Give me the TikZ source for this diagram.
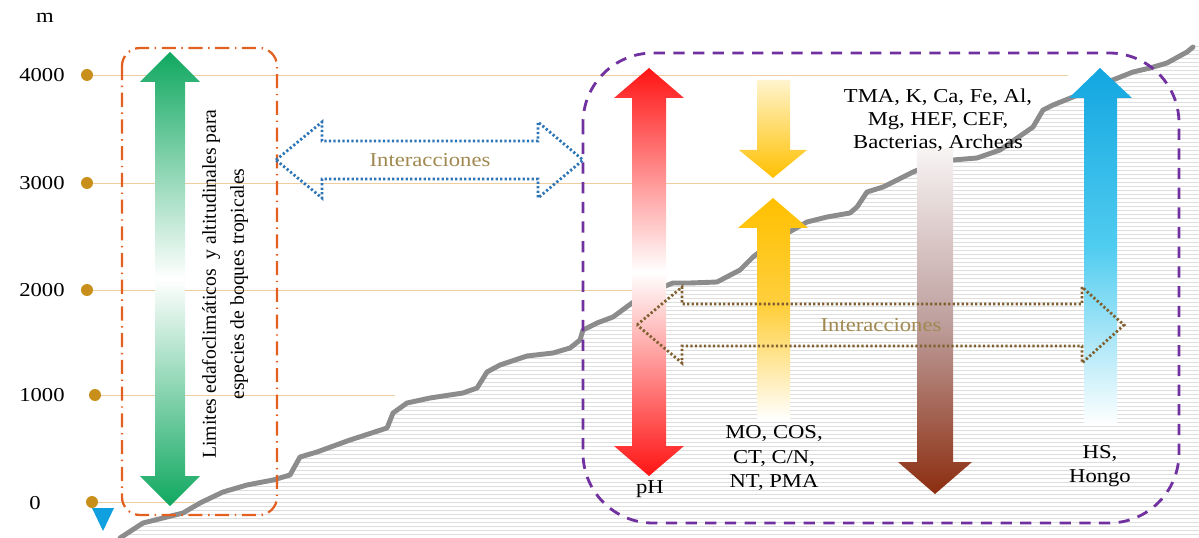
\documentclass[tikz,border=0pt]{standalone}
\usepackage{fontspec}
\setmainfont{Liberation Serif}[FakeStretch=1.15]
\newfontfamily\uprightserif{Liberation Serif}
\definecolor{dotgold}{RGB}{200,144,26}
\definecolor{gridline}{RGB}{238,205,160}
\definecolor{hatchgray}{RGB}{222,222,222}
\definecolor{ridgegray}{RGB}{140,140,140}
\definecolor{boxorange}{RGB}{226,96,32}
\definecolor{boxpurple}{RGB}{112,48,160}
\definecolor{dotblue}{RGB}{46,117,182}
\definecolor{dotbrown}{RGB}{128,96,48}
\definecolor{labeltan}{RGB}{160,136,80}
\definecolor{arrgreen}{RGB}{16,168,96}
\definecolor{arrred}{RGB}{255,20,20}
\definecolor{arryellow}{RGB}{255,192,0}
\definecolor{arrpale}{RGB}{255,244,205}
\definecolor{arrbrown}{RGB}{140,45,15}
\definecolor{arrtaupe}{RGB}{190,160,158}
\definecolor{arrwhite}{RGB}{248,244,244}
\definecolor{arrblue}{RGB}{18,166,224}
\definecolor{arrsky}{RGB}{80,204,240}
\definecolor{triblue}{RGB}{16,160,224}
\begin{document}
\begin{tikzpicture}[x=0.025cm,y=-0.025cm,
  every node/.style={inner sep=0pt,font=\fontsize{14}{17}\selectfont},
  knob/.style={circle,fill=dotgold,minimum size=0.3cm},
  guide/.style={gridline,line width=0.6pt},
  hatchline/.style={hatchgray,line width=0.45pt},
  ridge/.style={ridgegray,line width=3.5pt,line join=round,line cap=round},
  limitbox/.style={boxorange,line width=1.6pt,rounded corners=0.45cm,dash pattern=on 10pt off 4pt on 1pt off 4pt},
  factorbox/.style={boxpurple,line width=2pt,rounded corners=1.75cm,dash pattern=on 8pt off 6pt},
  linkarrow/.style={line width=2pt,dash pattern=on 1.6pt off 1.6pt},
  tag/.style={text=labeltan}]
\useasboundingbox (0,0) rectangle (1199,538);
\node (unit) at (45,18) {m};
\node (t4000) at (42,75) {4000};
\node (t3000) at (42,183) {3000};
\node (t2000) at (42,290) {2000};
\node (t1000) at (42,395) {1000};
\node (t0) at (35,503) {0};
\node[knob] (d4000) at (87,75) {};
\node[knob] (d3000) at (87,183) {};
\node[knob] (d2000) at (87,290) {};
\node[knob] (d1000) at (95,395) {};
\node[knob] (d0) at (92,502) {};
\coordinate (g4000) at (1068,75);
\coordinate (g3000) at (885,183);
\coordinate (g2000) at (635,290);
\coordinate (g1000) at (395,395);
\coordinate (g0) at (195,502);
\draw[guide] (d4000) -- (g4000);
\draw[guide] (d3000) -- (g3000);
\draw[guide] (d2000) -- (g2000);
\draw[guide] (d1000) -- (g1000);
\draw[guide] (d0) -- (g0);
\fill[triblue] (92,508) -- (114,508) -- (103,531) -- cycle;
\begin{scope}
\clip (120,538) -- (143,523) -- (163,518) -- (183,513) -- (200,503) -- (223,492) -- (247,485) -- (273,480) -- (290,475) -- (300,457) -- (317,452) -- (350,440) -- (387,428) -- (393,413) -- (407,403) -- (430,398) -- (463,393) -- (477,388) -- (487,372) -- (500,365) -- (527,356) -- (553,353) -- (570,348) -- (580,340) -- (583,330) -- (597,323) -- (613,317) -- (632,303) -- (650,292) -- (673,283) -- (690,283) -- (717,282) -- (740,270) -- (753,257) -- (775,240) -- (807,222) -- (827,217) -- (850,213) -- (857,207) -- (867,192) -- (883,187) -- (913,172) -- (935,163) -- (953,160) -- (977,158) -- (1000,150) -- (1033,127) -- (1043,110) -- (1053,105) -- (1073,97) -- (1100,85) -- (1133,72) -- (1150,68) -- (1167,63) -- (1187,52) -- (1199,44) -- (1199,538) -- cycle;
\foreach \y in {42,46,...,538}
  \draw[hatchline] (100,\y) -- (1199,\y);
\end{scope}
\draw[ridge] (120,538) -- (143,523) -- (163,518) -- (183,513) -- (200,503) -- (223,492) -- (247,485) -- (273,480) -- (290,475) -- (300,457) -- (317,452) -- (350,440) -- (387,428) -- (393,413) -- (407,403) -- (430,398) -- (463,393) -- (477,388) -- (487,372) -- (500,365) -- (527,356) -- (553,353) -- (570,348) -- (580,340) -- (583,330) -- (597,323) -- (613,317) -- (632,303) -- (650,292) -- (673,283) -- (690,283) -- (717,282) -- (740,270) -- (753,257) -- (775,240) -- (807,222) -- (827,217) -- (850,213) -- (857,207) -- (867,192) -- (883,187) -- (913,172) -- (935,163) -- (953,160) -- (977,158) -- (1000,150) -- (1033,127) -- (1043,110) -- (1053,105) -- (1073,97) -- (1100,85) -- (1133,72) -- (1150,68) -- (1167,63) -- (1187,52) -- (1193,47);
\draw[limitbox] (122,48) rectangle (277,515);
\draw[factorbox] (583,53) rectangle (1179,523);
\shade[top color=arrgreen,bottom color=arrgreen,middle color=white] (170,52) -- (200,82) -- (185,82) -- (185,476) -- (200,476) -- (170,506) -- (140,476) -- (155,476) -- (155,82) -- (140,82) -- cycle;
\shade[top color=arrred,bottom color=arrred,middle color=white] (649,68) -- (684,98) -- (666,98) -- (666,446) -- (684,446) -- (649,476) -- (614,446) -- (632,446) -- (632,98) -- (614,98) -- cycle;
\shade[top color=arrpale,bottom color=arryellow] (757,80) -- (790,80) -- (790,150) -- (807,150) -- (773,178) -- (739,150) -- (757,150) -- cycle;
\shade[top color=arryellow,bottom color=white,middle color=arryellow!75!white] (773,198) -- (808,228) -- (790,228) -- (790,420) -- (757,420) -- (757,228) -- (738,228) -- cycle;
\shade[top color=arrwhite,bottom color=arrbrown,middle color=arrtaupe] (917,148) -- (953,148) -- (953,462) -- (972,462) -- (935,494) -- (898,462) -- (917,462) -- cycle;
\shade[top color=arrblue,bottom color=white,middle color=arrsky] (1100,68) -- (1132,98) -- (1117,98) -- (1117,425) -- (1084,425) -- (1084,98) -- (1069,98) -- cycle;
\draw[linkarrow,dotblue] (276,160) -- (322,122) -- (322,141) -- (538,141) -- (538,122) -- (583,160) -- (538,198) -- (538,179) -- (322,179) -- (322,198) -- cycle;
\draw[linkarrow,dotbrown] (637,325) -- (682,287) -- (682,304) -- (1082,304) -- (1082,287) -- (1124,325) -- (1082,363) -- (1082,346) -- (682,346) -- (682,363) -- cycle;
\node[tag] (inter1) at (430,160) {Interacciones};
\node[tag] (inter2) at (881,325) {Interacciones};
\node[rotate=90,align=center,font=\uprightserif\fontsize{14}{20}\selectfont] (limits) at (225,284) {Limites edafoclimáticos\ \ y altitudinales para\\especies de boques tropicales};
\node (ph) at (650,489) {pH};
\node[align=center,font=\fontsize{14}{17.5}\selectfont] (organic) at (774,458) {MO, COS,\\CT, C/N,\\NT, PMA};
\node[align=center,font=\fontsize{14}{16.5}\selectfont] (cations) at (938,120) {TMA, K, Ca, Fe, Al,\\Mg, HEF, CEF,\\Bacterias, Archeas};
\node[align=center,font=\fontsize{14}{17.5}\selectfont] (fungi) at (1100,466) {HS,\\Hongo};
\end{tikzpicture}
\end{document}
